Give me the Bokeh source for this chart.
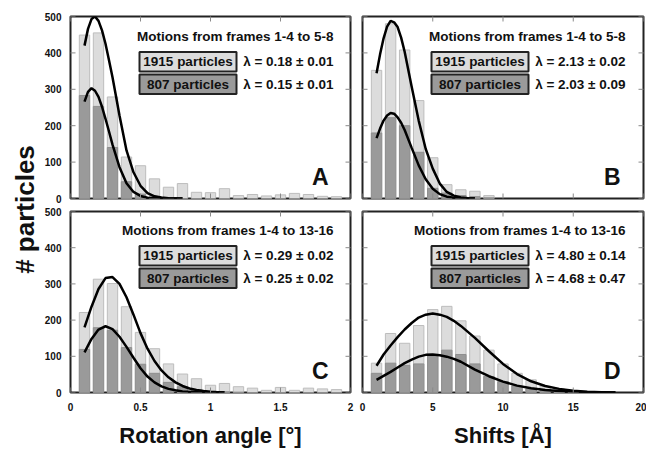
import math
from bokeh.plotting import figure
from bokeh.layouts import row, column
from bokeh.models import Range1d, FixedTicker, Label, BoxAnnotation
from bokeh.embed import file_html
from bokeh.resources import INLINE

FONT = "Liberation Sans"

# ---------------- data ----------------
rot_bins = [0.1, 0.2, 0.3, 0.4, 0.5, 0.6, 0.7, 0.8, 0.9, 1.0,
            1.1, 1.2, 1.3, 1.4, 1.5, 1.6, 1.7, 1.8, 1.9]
rotA_1915 = [449, 455, 279, 114, 90, 54, 31, 41, 17, 16, 27, 8, 11, 7, 10, 14, 11, 6, 5]
rotA_807 = [283, 253, 140, 46, 12, 4, 1, 0, 0, 0, 0, 0, 0, 0, 0, 0, 0, 0, 0]
rotC_1915 = [221, 313, 301, 237, 166, 121, 79, 51, 38, 20, 25, 16, 12, 6, 14, 6, 12, 10, 8]
rotC_807 = [119, 179, 172, 124, 78, 53, 28, 16, 7, 3, 2, 1, 0, 0, 0, 0, 0, 0, 0]

shiftB_bins = [1, 2, 3, 4, 5, 6, 7, 8, 9]
shiftB_1915 = [352, 480, 408, 269, 112, 38, 24, 20, 8]
shiftB_807 = [180, 222, 200, 127, 28, 15, 8, 5, 2]

shiftD_bins = [1, 2, 3, 4, 5, 6, 7, 8, 9, 10, 11, 12, 13, 14, 15]
shiftD_1915 = [81, 163, 136, 185, 229, 238, 198, 156, 117, 79, 53, 35, 17, 10, 5]
shiftD_807 = [53, 81, 75, 79, 101, 117, 105, 79, 44, 30, 18, 10, 5, 3, 1]

fitA_x = [0.1, 0.125, 0.15, 0.175, 0.2, 0.225, 0.25, 0.275, 0.3, 0.35,
          0.4, 0.45, 0.5, 0.55, 0.6, 0.65, 0.7, 0.75, 0.8]
fitA_1915 = [420, 466, 493, 500, 488, 462, 425, 380, 333, 228, 132, 72, 35, 15, 6, 3, 1, 0, 0]
fitA_807 = [266, 293, 303, 296, 279, 252, 219, 184, 148, 86, 42, 18, 7, 2, 1, 0, 0, 0, 0]

fitB_x = [1.0, 1.25, 1.5, 1.75, 2.0, 2.25, 2.5, 2.75, 3.0, 3.5,
          4.0, 4.5, 5.0, 5.5, 6.0, 6.5, 7.0, 7.5, 8.0]
fitB_1915 = [344, 396, 440, 472, 488, 484, 471, 442, 403, 307, 214, 136, 82, 41, 18, 8, 3, 1, 0]
fitB_807 = [166, 192, 214, 228, 235, 233, 223, 208, 188, 139, 91, 53, 27, 12, 5, 2, 1, 0, 0]

fitC_x = [0.1, 0.15, 0.2, 0.25, 0.3, 0.35, 0.4, 0.45, 0.5, 0.55, 0.6,
          0.65, 0.7, 0.75, 0.8, 0.85, 0.9, 0.95, 1.0, 1.05, 1.1]
fitC_1915 = [180, 237, 286, 316, 319, 300, 263, 215, 164, 121, 87, 61, 42, 28, 18, 11, 7, 4, 2, 1, 0]
fitC_807 = [111, 148, 174, 183, 175, 154, 126, 96, 67, 44, 28, 17, 10, 6, 3, 2, 1, 0, 0, 0, 0]

fitD_x = [1, 1.5, 2, 2.5, 3, 3.5, 4, 4.5, 5, 5.5, 6, 6.5, 7, 8, 9, 10,
          11, 12, 13, 14, 15, 16, 17, 18]
fitD_1915 = [74, 105, 130, 153, 174, 192, 207, 215, 218, 215, 209, 198, 184, 151, 114, 79,
             51, 31, 18, 10, 5, 2, 1, 0]
fitD_807 = [35, 46, 57, 69, 81, 91, 99, 104, 105, 103, 99, 93, 85, 63, 45, 30,
            19, 12, 7, 4, 2, 1, 0, 0]

y_ticks = [0, 100, 200, 300, 400, 500]
rot_ticks = [0, 0.5, 1, 1.5, 2]
rot_tick_labels = ["0", "0.5", "1", "1.5", "2"]
shift_ticks = [0, 5, 10, 15, 20]
shift_tick_labels = ["0", "5", "10", "15", "20"]

titles = ["Motions from frames 1-4 to 5-8", "Motions from frames 1-4 to 5-8",
          "Motions from frames 1-4 to 13-16", "Motions from frames 1-4 to 13-16"]
legend_names = ["1915 particles", "807 particles"]
lambdasA = ["λ = 0.18 ± 0.01", "λ = 0.15 ± 0.01"]
lambdasB = ["λ = 2.13 ± 0.02", "λ = 2.03 ± 0.09"]
lambdasC = ["λ = 0.29 ± 0.02", "λ = 0.25 ± 0.02"]
lambdasD = ["λ = 4.80 ± 0.14", "λ = 4.68 ± 0.47"]
letters = ["A", "B", "C", "D"]

LIGHT = "#dcdcdc"
LIGHT_LINE = "#bdbdbd"
DARK = "#9a9a9a"
DARK_LINE = "#8f8f8f"
FRAME = "#222222"
TICK = "#8a8a8a"
TXT = "#111111"
FRAME_W = 281
FRAME_H = 182
SMALL = "13.5px"


def panel(xmax, xticks, xlabels, bins, light, dark, bw, fx, f1, f2, title, lams, letter,
          show_y, show_x, width, height, mbl, mbr, mbt, mbb, xtitle=None):
    p = figure(width=width, height=height, x_range=Range1d(0, xmax), y_range=Range1d(0, 500),
               toolbar_location=None, output_backend="svg",
               x_axis_location="below" if show_x else None,
               y_axis_location="left" if show_y else None,
               min_border_left=mbl, min_border_right=mbr, min_border_top=mbt, min_border_bottom=mbb)
    p.grid.visible = False
    p.background_fill_color = "white"
    p.border_fill_color = "white"
    p.outline_line_color = FRAME
    p.outline_line_width = 2

    for ax in p.axis:
        ax.axis_line_color = None
        ax.major_tick_line_color = None
        ax.minor_tick_line_color = None
        ax.major_tick_in = 0
        ax.major_tick_out = 0
        ax.major_label_text_font = FONT
        ax.major_label_text_font_style = "bold"
        ax.major_label_text_font_size = "10px"
        ax.major_label_text_color = TXT
    if show_y:
        p.yaxis.ticker = FixedTicker(ticks=y_ticks)
        p.yaxis.major_label_standoff = 9
    if show_x:
        p.xaxis.ticker = FixedTicker(ticks=xticks)
        p.xaxis.major_label_overrides = {t: l for t, l in zip(xticks, xlabels)}
        p.xaxis.major_label_standoff = 10
        p.xaxis.axis_label = xtitle
        p.xaxis.axis_label_text_font = FONT
        p.xaxis.axis_label_text_font_style = "bold"
        p.xaxis.axis_label_text_font_size = "22px"
        p.xaxis.axis_label_text_color = TXT
        p.xaxis.axis_label_standoff = 9

    p.vbar(x=bins, top=light, bottom=0, width=bw, fill_color=LIGHT, line_color=LIGHT_LINE, line_width=1)
    p.vbar(x=bins, top=dark, bottom=0, width=bw, fill_color=DARK, line_color=DARK_LINE, line_width=1)
    p.line(fx, f1, line_color="black", line_width=2.5)
    p.line(fx, f2, line_color="black", line_width=2.5)

    # inward tick marks on all four sides (half of each dash is clipped by the frame)
    p.scatter(x=xticks, y=[0] * len(xticks), marker="dash", size=10, angle=math.pi / 2,
              line_color=TICK, line_width=1)
    p.scatter(x=xticks, y=[500] * len(xticks), marker="dash", size=10, angle=math.pi / 2,
              line_color=TICK, line_width=1)
    p.scatter(x=[0] * len(y_ticks), y=y_ticks, marker="dash", size=10,
              line_color=TICK, line_width=1)
    p.scatter(x=[xmax] * len(y_ticks), y=y_ticks, marker="dash", size=10,
              line_color=TICK, line_width=1)

    p.add_layout(Label(x=263, y=162, x_units="screen", y_units="screen", text=title,
                       text_font=FONT, text_font_style="bold", text_font_size=SMALL,
                       text_align="right", text_baseline="middle", text_color=TXT))
    boxes = [(127, 146.5, LIGHT), (104.5, 124, DARK)]
    for (bot, top, col), name, lam in zip(boxes, legend_names, lams):
        p.add_layout(BoxAnnotation(left=69, right=166, bottom=bot, top=top,
                                   left_units="screen", right_units="screen",
                                   bottom_units="screen", top_units="screen",
                                   fill_color=col, fill_alpha=1.0,
                                   line_color=FRAME, line_width=2, line_alpha=1.0))
        cy = (bot + top) / 2
        p.add_layout(Label(x=117.5, y=cy, x_units="screen", y_units="screen", text=name,
                           text_font=FONT, text_font_style="bold", text_font_size=SMALL,
                           text_align="center", text_baseline="middle", text_color=TXT))
        p.add_layout(Label(x=263, y=cy, x_units="screen", y_units="screen", text=lam,
                           text_font=FONT, text_font_style="bold", text_font_size=SMALL,
                           text_align="right", text_baseline="middle", text_color=TXT))
    p.add_layout(Label(x=258, y=22, x_units="screen", y_units="screen", text=letter,
                       text_font=FONT, text_font_style="bold", text_font_size="23px",
                       text_align="right", text_baseline="alphabetic", text_color=TXT))
    return p


W_LEFT = 41
TOP_H = 16 + FRAME_H + 6
BOT_H = 7 + FRAME_H + 57
pA = panel(2, rot_ticks, rot_tick_labels, rot_bins, rotA_1915, rotA_807, 0.074,
           fitA_x, fitA_1915, fitA_807, titles[0], lambdasA, letters[0],
           True, False, 28 + FRAME_W + 6, TOP_H, 28, 6, 16, 6)
pB = panel(20, shift_ticks, shift_tick_labels, shiftB_bins, shiftB_1915, shiftB_807, 0.74,
           fitB_x, fitB_1915, fitB_807, titles[1], lambdasB, letters[1],
           False, False, 6 + FRAME_W + 3, TOP_H, 6, 3, 16, 6)
pC = panel(2, rot_ticks, rot_tick_labels, rot_bins, rotC_1915, rotC_807, 0.074,
           fitC_x, fitC_1915, fitC_807, titles[2], lambdasC, letters[2],
           True, True, 28 + FRAME_W + 6, BOT_H, 28, 6, 7, 57,
           xtitle="Rotation angle [°]")
pD = panel(20, shift_ticks, shift_tick_labels, shiftD_bins, shiftD_1915, shiftD_807, 0.74,
           fitD_x, fitD_1915, fitD_807, titles[3], lambdasD, letters[3],
           False, True, 6 + FRAME_W + 3, BOT_H, 6, 3, 7, 57,
           xtitle="Shifts [Å]")

total_h = TOP_H + BOT_H
py = figure(width=W_LEFT, height=total_h, x_range=Range1d(0, 1), y_range=Range1d(0, 1),
            toolbar_location=None, output_backend="svg", x_axis_location=None, y_axis_location=None,
            min_border_left=0, min_border_right=0, min_border_top=0, min_border_bottom=0)
py.grid.visible = False
py.outline_line_color = None
py.border_fill_color = "white"
py.add_layout(Label(x=24, y=total_h - 209, x_units="screen", y_units="screen", text="# particles",
                    angle=math.pi / 2, text_font=FONT, text_font_style="bold", text_font_size="26px",
                    text_align="center", text_baseline="middle", text_color=TXT))

layout = row(py, column(row(pA, pB), row(pC, pD)))
open("out.html", "w").write(file_html(layout, INLINE))
